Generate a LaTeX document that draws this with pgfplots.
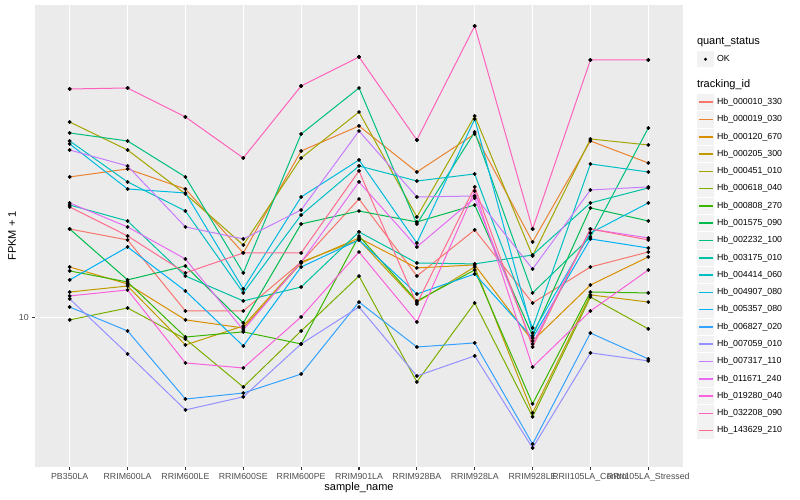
\documentclass[border=0pt]{standalone}
\usepackage{fontspec}
\setmainfont{Liberation Sans}
\usepackage{pgfplots}
\usepackage{pgfplotstable}
\pgfplotsset{compat=1.18}

\definecolor{ggpanel}{HTML}{EBEBEB}
\definecolor{ggkey}{HTML}{F2F2F2}
\definecolor{ggtext}{HTML}{4D4D4D}
\definecolor{ggtick}{HTML}{333333}
\definecolor{c1}{HTML}{F8766D}
\definecolor{c2}{HTML}{EA8331}
\definecolor{c3}{HTML}{D89000}
\definecolor{c4}{HTML}{C09B00}
\definecolor{c5}{HTML}{A3A500}
\definecolor{c6}{HTML}{7CAE00}
\definecolor{c7}{HTML}{39B600}
\definecolor{c8}{HTML}{00BB4E}
\definecolor{c9}{HTML}{00BF7D}
\definecolor{c10}{HTML}{00C1A3}
\definecolor{c11}{HTML}{00BFC4}
\definecolor{c12}{HTML}{00BAE0}
\definecolor{c13}{HTML}{00B0F6}
\definecolor{c14}{HTML}{35A2FF}
\definecolor{c15}{HTML}{9590FF}
\definecolor{c16}{HTML}{C77CFF}
\definecolor{c17}{HTML}{E76BF3}
\definecolor{c18}{HTML}{FA62DB}
\definecolor{c19}{HTML}{FF62BC}
\definecolor{c20}{HTML}{FF6C90}

% FPKM + 1 per sample (rows) and tracking_id (columns s1..s20)
\pgfplotstableread{
x  s1    s2    s3    s4    s5    s6    s7    s8    s9    s10   s11   s12   s13   s14   s15   s16   s17   s18   s19   s20
0  16.69 22.52 13.41 11.61 30.90 9.89  13.11 16.69 29.01 19.16 27.70 27.23 12.45 10.65 11.16 26.30 19.39 11.35 37.37 18.95
1  15.67 23.58 12.16 12.02 26.30 10.59 12.30 12.45 27.70 17.48 21.88 21.01 15.05 9.28  8.13  23.99 16.89 11.75 37.58 16.03
2  10.41 21.01 9.89  8.56  20.42 8.86  8.96  13.49 22.52 12.73 18.51 20.54 11.68 6.27  5.89  16.89 14.04 7.72  31.81 12.96
3  10.41 14.54 9.44  9.55  15.22 6.72  9.23  9.72  12.96 11.03 11.55 11.82 8.51  6.49  6.35  15.76 9.33  7.50  25.12 14.54
4  13.80 26.15 13.72 13.80 25.12 9.28  8.61  17.18 28.84 11.95 18.09 20.07 13.41 7.24  8.61  18.62 13.80 10.06 38.02 14.54
5  19.84 30.20 15.85 15.67 32.73 12.73 16.03 18.51 37.58 16.41 23.99 24.83 15.67 10.96 10.65 29.34 21.88 14.62 44.93 23.31
6  12.73 23.17 13.34 10.96 17.89 6.92  11.03 17.38 17.18 13.72 22.00 15.40 11.48 8.46  7.16  20.07 15.05 9.77  27.86 10.84
7  16.60 28.84 13.57 13.41 31.99 10.90 13.18 19.16 29.17 13.65 22.91 31.44 12.88 8.66  8.04  20.18 19.95 20.77 53.70 21.26
8  10.90 15.49 8.76  5.79  14.29 5.66  6.10  9.02  11.55 14.37 9.44  9.17  8.91  4.84  4.73  13.26 8.61  7.54  16.69 8.46
9  13.41 27.70 12.09 11.42 28.02 11.28 11.61 18.84 15.94 19.39 24.27 16.31 15.76 9.17  8.18  20.89 16.69 10.41 44.16 16.69
10 14.62 24.41 14.21 10.96 27.07 9.39  11.55 17.48 29.85 21.14 23.17 19.39 14.96 7.90  7.81  21.26 15.85 13.18 44.16 15.67
}\fpkm

\pgfplotsset{
  gglegend/.style={
    legend cell align=left,
    legend style={draw=none, fill=none, inner sep=0pt, outer sep=0pt,
      at={(axis description cs:1,1)}, anchor=north west, xshift=14pt,
      row sep=8.78pt, column sep=3pt,
      nodes={inner sep=0pt, text height=6.5pt, text depth=2pt,
        font=\fontsize{8.8}{10}\selectfont, text=black}},
  },
}

\begin{document}
\begin{tikzpicture}
\useasboundingbox (-35pt,-33pt) rectangle (765pt,467pt);
\begin{axis}[
  at={(0pt,0pt)}, anchor=south west,
  scale only axis, width=648pt, height=462pt,
  xmin=-0.6, xmax=10.6,
  ymode=log, ymin=4.24, ymax=60.6,
  xtick={0,...,10},
  xticklabels={PB350LA,RRIM600LA,RRIM600LE,RRIM600SE,RRIM600PE,RRIM901LA,RRIM928BA,RRIM928LA,RRIM928LE,RRII105LA\_Control,RRII105LA\_Stressed},
  ytick={10}, yticklabels={10}, minor ytick={},
  axis background/.style={fill=ggpanel},
  axis line style={draw=none},
  grid=major, major grid style={white, line width=1.07pt},
  tick pos=left, tick align=outside, major tick length=2.75pt,
  tick style={ggtick, line width=1.07pt},
  ticklabel style={font=\fontsize{8.8}{10}\selectfont, text=ggtext},
  xlabel={sample\_name}, ylabel={FPKM + 1},
  label style={font=\fontsize{11}{13}\selectfont, text=black},
  xlabel style={at={(axis description cs:0.5,-0.0455)}, anchor=center},
  ylabel style={at={(axis description cs:-0.0355,0.5)}, anchor=center},
  gglegend,
  legend style={yshift=-75.75pt},
  legend image code/.code={
    \fill[ggkey, draw=none, overlay] (0.3pt,-8.2pt) rectangle (16.7pt,8.2pt);
    \path[draw=none] (0pt,0pt) -- (17pt,0pt);
    \draw[#1, line width=1.6pt] (1.5pt,0pt) -- (15.5pt,0pt);
  },
  legend entries={{\hspace*{-20pt}\fontsize{11}{13}\selectfont tracking\_id},
    Hb\_000010\_330,Hb\_000019\_030,Hb\_000120\_670,Hb\_000205\_300,Hb\_000451\_010,
    Hb\_000618\_040,Hb\_000808\_270,Hb\_001575\_090,Hb\_002232\_100,Hb\_003175\_010,
    Hb\_004414\_060,Hb\_004907\_080,Hb\_005357\_080,Hb\_006827\_020,Hb\_007059\_010,
    Hb\_007317\_110,Hb\_011671\_240,Hb\_019280\_040,Hb\_032208\_090,Hb\_143629\_210},
]
\addlegendimage{empty legend}
\pgfplotsinvokeforeach{1,...,20}{
  \addplot[color=c#1, line width=1pt, no marks] table[x=x, y=s#1]{\fpkm};
}
\pgfplotsinvokeforeach{1,...,20}{
  \addplot[only marks, mark=*, mark size=1.7pt, black, forget plot] table[x=x, y=s#1]{\fpkm};
}
\end{axis}

% second axis on the same frame: legend for quant_status (points layer)
\begin{axis}[
  at={(0pt,0pt)}, anchor=south west,
  scale only axis, width=648pt, height=462pt,
  xmin=-0.6, xmax=10.6,
  ymode=log, ymin=4.24, ymax=60.6,
  hide axis,
  gglegend,
  legend style={yshift=-32.75pt},
]
\addlegendimage{empty legend}
\addlegendentry{\hspace*{-20pt}\fontsize{11}{13}\selectfont quant\_status}
\addplot[only marks, mark=*, mark size=1.7pt, black,
  legend image code/.code={
    \fill[ggkey, draw=none, overlay] (0.3pt,-8.2pt) rectangle (16.7pt,8.2pt);
    \path[draw=none] (0pt,0pt) -- (17pt,0pt);
    \fill[black, draw=none] (8.5pt,0pt) circle (1.7pt);
  }] table[x=x, y=s19]{\fpkm};
\addlegendentry{OK}
\end{axis}
\end{tikzpicture}
\end{document}
